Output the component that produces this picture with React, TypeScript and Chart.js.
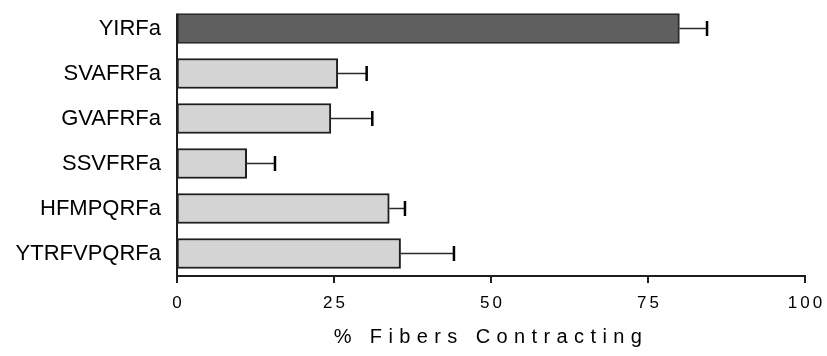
import React, { useEffect, useRef } from "react";
import { Chart, registerables } from "chart.js";

Chart.register(...registerables);

// Peptides tested, mean % of fibers contracting and the error for each
const categories = ["YIRFa", "SVAFRFa", "GVAFRFa", "SSVFRFa", "HFMPQRFa", "YTRFVPQRFa"];
const values = [80, 25.6, 24.5, 11.1, 33.8, 35.6];
const errors = [4.4, 4.6, 6.6, 4.5, 2.5, 8.5];
const xTicks = [0, 25, 50, 75, 100];
const xTitle = "% Fibers Contracting";

const FONT = "'Liberation Sans', Arial, Helvetica, sans-serif";
const INK = "#1e1e1e";
const DARK_FILL = "#5f5f5f";
const LIGHT_FILL = "#d4d4d4";

// Whiskers: horizontal line from the bar end to mean + error, with a vertical cap
const errorBars = {
  id: "errorBars",
  afterDatasetsDraw(chart: any) {
    const { ctx, scales } = chart;
    const xs = scales.x;
    const meta = chart.getDatasetMeta(0);
    ctx.save();
    meta.data.forEach((bar: any, i: number) => {
      const end = xs.getPixelForValue(values[i] + errors[i]);
      const y = bar.y;
      ctx.strokeStyle = "#2a2a2a";
      ctx.lineWidth = 1.5;
      ctx.beginPath();
      ctx.moveTo(bar.x, y);
      ctx.lineTo(end, y);
      ctx.stroke();
      ctx.strokeStyle = "#000";
      ctx.lineWidth = 2.5;
      ctx.beginPath();
      ctx.moveTo(end, y - 7.5);
      ctx.lineTo(end, y + 7.5);
      ctx.stroke();
    });
    ctx.restore();
  },
};

// Axis lines, x tick marks, spaced-out tick labels and the x title
const axes = {
  id: "axes",
  afterDraw(chart: any) {
    const { ctx, chartArea, scales } = chart;
    const xs = scales.x;
    const meta = chart.getDatasetMeta(0);
    const first: any = meta.data[0];
    const top = first.y - first.height / 2;
    const bottom = chartArea.bottom;
    const x0 = xs.getPixelForValue(0);
    const tickLen = 7;

    ctx.save();
    ctx.strokeStyle = INK;
    ctx.lineWidth = 2;
    ctx.beginPath();
    ctx.moveTo(x0, top);
    ctx.lineTo(x0, bottom + tickLen);
    ctx.moveTo(x0, bottom);
    ctx.lineTo(chartArea.right + 1, bottom);
    xs.ticks.forEach((t: any) => {
      const px = xs.getPixelForValue(t.value);
      ctx.moveTo(px, bottom);
      ctx.lineTo(px, bottom + tickLen);
    });
    ctx.stroke();

    // letterSpacing also trails the last glyph, so shift by half of it to stay centred
    ctx.fillStyle = "#000";
    ctx.textAlign = "center";
    ctx.textBaseline = "alphabetic";
    ctx.font = `17px ${FONT}`;
    (ctx as any).letterSpacing = "3px";
    xs.ticks.forEach((t: any) => {
      const px = xs.getPixelForValue(t.value);
      ctx.fillText(String(t.value), px + 1.5, bottom + 31.5);
    });

    ctx.font = `20px ${FONT}`;
    (ctx as any).letterSpacing = "6.4px";
    ctx.fillText(xTitle, (chartArea.left + chartArea.right) / 2, bottom + 67);
    (ctx as any).letterSpacing = "0px";
    ctx.restore();
  },
};

export default function App() {
  const ref = useRef<HTMLCanvasElement | null>(null);

  useEffect(() => {
    document.body.style.margin = "0";
    const canvas = ref.current;
    if (!canvas) return;
    const chart = new Chart(canvas, {
      type: "bar",
      data: {
        labels: categories,
        datasets: [
          {
            data: values,
            backgroundColor: categories.map((_, i) => (i === 0 ? DARK_FILL : LIGHT_FILL)),
            borderColor: categories.map((_, i) => (i === 0 ? "#2b2b2b" : INK)),
            borderWidth: 2,
            borderSkipped: false,
            barThickness: 30,
          },
        ],
      },
      options: {
        indexAxis: "y",
        responsive: false,
        animation: false,
        devicePixelRatio: 1,
        layout: { padding: { top: 6, right: 22, left: 0, bottom: 0 } },
        plugins: {
          legend: { display: false },
          tooltip: { enabled: false },
          title: { display: false },
        },
        scales: {
          x: {
            type: "linear",
            min: xTicks[0],
            max: xTicks[xTicks.length - 1],
            afterBuildTicks: (scale: any) => {
              scale.ticks = xTicks.map((v) => ({ value: v }));
            },
            grid: { display: false },
            border: { display: false },
            ticks: { display: false },
            afterFit: (scale: any) => {
              scale.height = 80;
              scale.paddingLeft = 0;
              scale.paddingRight = 0;
            },
          },
          y: {
            grid: { display: false, drawTicks: false },
            border: { display: false },
            ticks: {
              color: "#000",
              padding: 16,
              font: { family: FONT, size: 22 },
            },
            afterFit: (scale: any) => {
              scale.width = 177;
              scale.paddingTop = 0;
              scale.paddingBottom = 0;
            },
          },
        },
      },
      plugins: [errorBars, axes],
    });
    return () => chart.destroy();
  }, []);

  return (
    <div style={{ width: 827, height: 356, background: "#fff" }}>
      <canvas ref={ref} width={827} height={356} />
    </div>
  );
}
